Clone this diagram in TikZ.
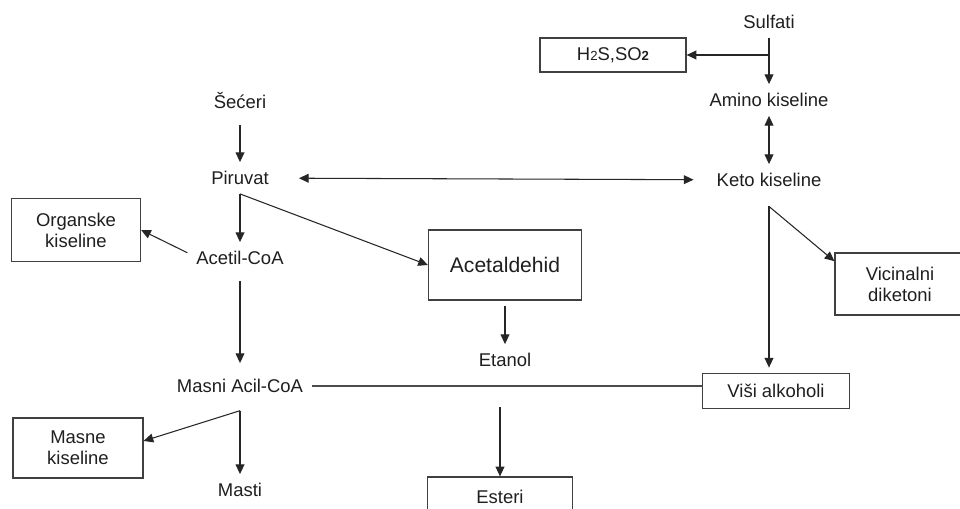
\documentclass[tikz,border=0pt]{standalone}
\usepackage{fontspec}
\setmainfont{Liberation Sans}
\usetikzlibrary{arrows.meta}

\tikzset{
  lbl/.style={inner sep=5pt, font=\fontsize{10.5}{12}\selectfont, text=black!88},
  bx/.style={lbl, draw=black!75, line width=0.7pt, align=center},
  arr/.style={-{Triangle[length=5.5pt,width=5pt]}, line width=0.6pt, draw=black!85},
  dbl/.style={{Triangle[length=5.5pt,width=5pt]}-{Triangle[length=5.5pt,width=5pt]}, line width=0.6pt, draw=black!85},
  ln/.style={line width=0.6pt, draw=black!70}
}

\begin{document}
\begin{tikzpicture}[x=0.02cm, y=-0.02cm]
    \clip (0,0) rectangle (960,509);
    \fill[white] (0,0) rectangle (960,509);
    % right column
    \node[lbl] (sulfati) at (769,22) {Sulfati};
    \node[bx, minimum width=2.92cm, minimum height=0.68cm] (h2s) at (613,55) {H{\fontsize{7.5}{8}\selectfont 2}S,SO{\fontsize{7.5}{8}\selectfont\bfseries 2}};
    \node[lbl] (amino) at (769,100) {Amino kiseline};
    \node[lbl] (keto) at (769,180) {Keto kiseline};
    \node[bx, minimum width=2.6cm, minimum height=1.24cm] (vicin) at (900,284) {Vicinalni\\diketoni};
    \node[bx, minimum width=2.94cm, minimum height=0.7cm] (visi) at (776,391) {Viši alkoholi};
    % left column
    \node[lbl] (seceri) at (240,101) {Šećeri};
    \node[lbl] (piruvat) at (240,178) {Piruvat};
    \node[bx, minimum width=2.58cm, minimum height=1.26cm] (organske) at (76,230) {Organske\\kiseline};
    \node[lbl] (acetil) at (240,258) {Acetil-CoA};
    \node[lbl] (masni) at (240,386) {Masni Acil-CoA};
    \node[bx, minimum width=2.6cm, minimum height=1.2cm] (masne) at (78,448) {Masne\\kiseline};
    \node[lbl] (masti) at (240,490) {Masti};
    % middle
    \node[bx, minimum width=3.06cm, minimum height=1.4cm, font=\fontsize{12}{14}\selectfont] (acetald) at (505,265) {Acetaldehid};
    \node[lbl] (etanol) at (505,360) {Etanol};
    \node[bx, minimum width=2.9cm, minimum height=0.8cm] (esteri) at (500,497) {Esteri};
    % connectors
    \coordinate (fork) at (sulfati |- h2s);
    \draw[arr] (sulfati) -- (amino);
    \draw[arr] (fork) -- (h2s.east);
    \draw[dbl] (amino) -- (keto);
    \draw[arr, shorten <=4pt] (seceri) -- (piruvat);
    \draw[dbl, shorten <=12pt, shorten >=8pt] (piruvat) -- (keto);
    \draw[arr] (piruvat.south) -- (acetil);
    \draw[arr] (piruvat.south) -- (acetald.west);
    \draw[arr] ([yshift=3pt]acetil.west) -- (organske.east);
    \draw[arr, shorten <=4pt, shorten >=4pt] (acetil) -- (masni);
    \draw[arr, shorten <=3pt] (acetald) -- (etanol);
    \draw[ln] (masni.east) -- (masni.east -| visi.west);
    \coordinate (split) at (esteri.north |- masni.east);
    \draw[arr, shorten <=12pt] (split) -- (esteri);
    \draw[arr, shorten >=3pt] ([yshift=-6pt]keto.south) -- (keto.south |- visi.north);
    \draw[arr] ([yshift=-6pt]keto.south) -- ([yshift=-5pt]vicin.north west);
    \draw[arr] ([yshift=-5pt]masni.south) -- ([yshift=4pt]masne.east);
    \draw[arr] ([yshift=-5pt]masni.south) -- (masti);
\end{tikzpicture}
\end{document}
